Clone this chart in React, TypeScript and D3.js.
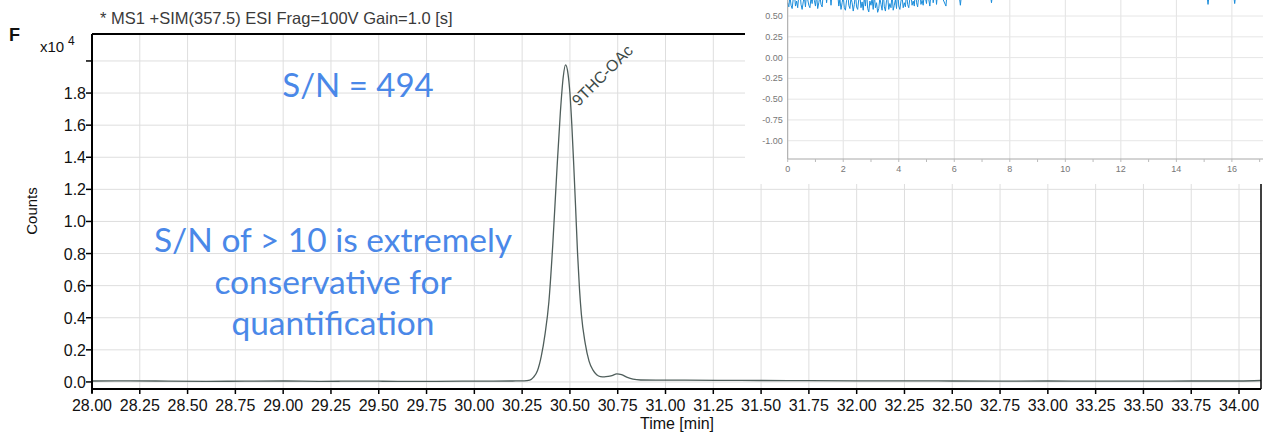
import React from 'react';
import * as d3 from 'd3';

// main chromatogram, counts in units of 1e4
const mainTime = [
  28.0, 28.2, 28.4, 28.6, 28.8, 29.0, 29.2, 29.4, 29.6, 29.8, 30.0, 30.1, 30.2, 30.26, 30.29,
  30.31, 30.33, 30.35, 30.37, 30.39, 30.41, 30.43, 30.45, 30.465, 30.477, 30.49, 30.5, 30.51,
  30.52, 30.53, 30.54, 30.55, 30.56, 30.58, 30.6, 30.62, 30.64, 30.66, 30.68, 30.7, 30.72,
  30.745, 30.77, 30.8, 30.83, 30.87, 30.95, 31.1, 31.3, 31.5, 31.75, 32.0, 32.25, 32.5, 32.75,
  33.0, 33.25, 33.5, 33.75, 34.0, 34.115,
];
const mainCounts = [
  0.006, 0.007, 0.005, 0.004, 0.005, 0.006, 0.004, 0.005, 0.004, 0.004, 0.005, 0.005, 0.006, 0.007, 0.012,
  0.03, 0.07, 0.16, 0.3, 0.5, 0.85, 1.28, 1.68, 1.9, 1.975, 1.92, 1.8, 1.6,
  1.35, 1.08, 0.8, 0.58, 0.42, 0.24, 0.13, 0.075, 0.045, 0.033, 0.031, 0.034, 0.04,
  0.05, 0.045, 0.028, 0.017, 0.012, 0.011, 0.011, 0.01, 0.009, 0.008, 0.007, 0.007, 0.006, 0.005,
  0.006, 0.005, 0.005, 0.006, 0.006, 0.009,
];
const xTicks = [
  '28.00', '28.25', '28.50', '28.75', '29.00', '29.25', '29.50', '29.75', '30.00', '30.25', '30.50',
  '30.75', '31.00', '31.25', '31.50', '31.75', '32.00', '32.25', '32.50', '32.75', '33.00', '33.25',
  '33.50', '33.75', '34.00',
];
const yTicks = [0.0, 0.2, 0.4, 0.6, 0.8, 1.0, 1.2, 1.4, 1.6, 1.8, 2.0];
const yLabelled = ['0.0', '0.2', '0.4', '0.6', '0.8', '1.0', '1.2', '1.4', '1.6', '1.8'];

// inset: noise trace, dense part sampled every 0.04 from 0
const insetStep = 0.04;
const insetNoise = [
  0.66, 0.61, 0.74, 0.63, 0.59, 0.71, 0.78, 0.62, 0.68, 0.60, 0.75, 0.82, 0.64, 0.58, 0.67,
  0.73, 0.61, 0.79, 0.70, 0.63, 0.60, 0.72, 0.65, 0.81, 0.69, 0.62, 0.76, 0.59, 0.66, 0.74,
  0.64, 0.61, 0.77, 0.70, 0.83, 0.66,
  0.78, 0.84, 0.80, 0.63, 0.79, 0.86, 0.82, 0.80, 0.85, 0.77,
  0.62, 0.70, 0.58, 0.66, 0.74, 0.60, 0.57, 0.69, 0.80, 0.63, 0.59, 0.72, 0.66, 0.56, 0.64,
  0.78, 0.61, 0.58, 0.70, 0.75, 0.60, 0.67, 0.57, 0.73, 0.62, 0.81, 0.59, 0.55, 0.68, 0.63,
  0.71, 0.58, 0.76, 0.60, 0.66, 0.545, 0.59, 0.72, 0.64, 0.57, 0.79, 0.61, 0.56, 0.69, 0.74,
  0.58, 0.65, 0.60, 0.77, 0.57, 0.63, 0.70, 0.59, 0.82, 0.62, 0.58, 0.68, 0.73, 0.60, 0.66,
  0.61, 0.79, 0.64, 0.60, 0.71, 0.76, 0.63, 0.68, 0.62, 0.84, 0.66, 0.61, 0.74, 0.80, 0.64,
  0.69, 0.63, 0.78, 0.72, 0.65, 0.83, 0.70, 0.62, 0.77, 0.81, 0.66, 0.74, 0.85, 0.64, 0.79,
  0.82,
];
const insetSpikes: [number, number][] = [
  [5.7, 0.62], [5.75, 0.82], [6.15, 0.82], [6.22, 0.63], [6.28, 0.82], [7.28, 0.82], [7.34, 0.66],
  [7.4, 0.82], [15.08, 0.82], [15.14, 0.64], [15.2, 0.82], [16.04, 0.82], [16.1, 0.65],
  [16.16, 0.82], [17.12, 0.82],
];
const insetXTicks = [0, 2, 4, 6, 8, 10, 12, 14, 16];
const insetMinor = [1, 3, 5, 7, 9, 11, 13, 15, 17];
const insetYTicks = [0.5, 0.25, 0.0, -0.25, -0.5, -0.75, -1.0];

const FONT = '"Liberation Sans", Arial, sans-serif';
const BLUE = '#4a88e8';

export default function App() {
  const x = d3.scaleLinear().domain([28, 34.115]).range([92, 1261]);
  const y = d3.scaleLinear().domain([-0.044, 2.168]).range([389, 34]);

  const line = d3.line<number>()
    .x((d, i) => x(mainTime[i]))
    .y(d => y(d))
    .curve(d3.curveMonotoneX);

  const ix = d3.scaleLinear().domain([0, 17.12]).range([787.7, 1263]);
  const iy = d3.scaleLinear().domain([-1.22, 0.693]).range([159, 0]);
  const insetPts: [number, number][] = insetNoise
    .map((v, i) => [i * insetStep, v] as [number, number])
    .concat(insetSpikes);
  const insetLine = d3.line<[number, number]>()
    .x(d => ix(d[0]))
    .y(d => iy(d[1]));

  const [x0, x1] = x.range();
  const [yb, yt] = y.range();

  return (
    <svg width={1263} height={434} style={{ position: 'absolute', left: 0, top: 0, background: '#fff' }}>
      <defs>
        <clipPath id="plot">
          <rect x={x0} y={yt} width={x1 - x0} height={yb - yt} />
        </clipPath>
      </defs>

      {/* grid */}
      {xTicks.map(t => (
        <line key={'gx' + t} x1={x(+t)} x2={x(+t)} y1={yt} y2={yb} stroke="#dedede" strokeWidth={1} />
      ))}
      {yTicks.map(t => (
        <line key={'gy' + t} x1={x0} x2={x1} y1={y(t)} y2={y(t)} stroke="#dedede" strokeWidth={1} />
      ))}

      <path d={line(mainCounts) || ''} fill="none" stroke="#4f5e5b" strokeWidth={1.3} clipPath="url(#plot)" />

      {/* frame */}
      <line x1={x0} x2={x1} y1={yt} y2={yt} stroke="#000" strokeWidth={2} />
      <line x1={x1} x2={x1} y1={yt} y2={yb} stroke="#000" strokeWidth={1.5} />
      <line x1={x0} x2={x0} y1={yt} y2={yb + 4} stroke="#000" strokeWidth={2} />
      <line x1={x0} x2={x1} y1={yb} y2={yb} stroke="#000" strokeWidth={2} />

      {/* y axis */}
      {yTicks.map(t => (
        <line key={'ty' + t} x1={x0 - 6} x2={x0} y1={y(t)} y2={y(t)} stroke="#000" strokeWidth={1.5} />
      ))}
      {yLabelled.map(t => (
        <text key={'ly' + t} x={x0 - 6} y={y(+t) + 6} textAnchor="end" fontFamily={FONT} fontSize={16} fill="#111">{t}</text>
      ))}
      {/* x axis */}
      {xTicks.map(t => (
        <line key={'tx' + t} x1={x(+t)} x2={x(+t)} y1={yb} y2={yb + 5} stroke="#000" strokeWidth={1.5} />
      ))}
      {xTicks.map(t => (
        <text key={'lx' + t} x={x(+t)} y={yb + 22} textAnchor="middle" fontFamily={FONT} fontSize={16} fill="#111">{t}</text>
      ))}

      <text x={677} y={429} textAnchor="middle" fontFamily={FONT} fontSize={16} fill="#111">Time [min]</text>
      <text transform="translate(37,211) rotate(-90)" textAnchor="middle" fontFamily={FONT} fontSize={15} fill="#111">Counts</text>
      <text x={40} y={52} fontFamily={FONT} fontSize={15} fill="#111">x10</text>
      <text x={68} y={45} fontFamily={FONT} fontSize={12} fill="#111">4</text>
      <text x={9} y={41} fontFamily={FONT} fontSize={18} fontWeight="bold" fill="#111">F</text>
      <text x={100} y={24} fontFamily={FONT} fontSize={16.5} fill="#3a3a3a">* MS1 +SIM(357.5) ESI Frag=100V Gain=1.0 [s]</text>

      <text transform={`translate(${x(30.477) + 13},${y(1.975) + 42}) rotate(-45)`} fontFamily={FONT} fontSize={16} fill="#3d4a48">9THC-OAc</text>

      {/* annotations */}
      <text x={358} y={97} textAnchor="middle" fontFamily="Lato, sans-serif" fontSize={33} fill={BLUE}>S/N = 494</text>
      <text textAnchor="middle" fontFamily="Lato, sans-serif" fontSize={33.5} fill={BLUE}>
        <tspan x={333} y={252}>S/N of &gt; 10 is extremely</tspan>
        <tspan x={333} y={294}>conservative for</tspan>
        <tspan x={333} y={335}>quantification</tspan>
      </text>

      {/* inset */}
      <g>
        <rect x={745} y={0} width={518} height={184} fill="#fff" />
        {insetXTicks.map(t => (
          <line key={'igx' + t} x1={ix(t)} x2={ix(t)} y1={0} y2={iy.range()[0]} stroke="#e2e2e2" strokeWidth={1} />
        ))}
        {insetYTicks.map(t => (
          <line key={'igy' + t} x1={ix(0)} x2={1263} y1={iy(t)} y2={iy(t)} stroke="#e6e6e6" strokeWidth={1} />
        ))}
        <path d={insetLine(insetPts) || ''} fill="none" stroke="#1b8ddb" strokeWidth={1} />
        <line x1={ix(0)} x2={ix(0)} y1={0} y2={iy.range()[0]} stroke="#a8a8a8" strokeWidth={1} />
        <line x1={ix(0)} x2={1263} y1={iy.range()[0]} y2={iy.range()[0]} stroke="#a8a8a8" strokeWidth={1} />
        {insetXTicks.concat(insetMinor).map(t => (
          <line key={'itx' + t} x1={ix(t)} x2={ix(t)} y1={iy.range()[0]} y2={iy.range()[0] + 3} stroke="#bbb" strokeWidth={1} />
        ))}
        {insetXTicks.map(t => (
          <text key={'ilx' + t} x={ix(t)} y={iy.range()[0] + 13} textAnchor="middle" fontFamily={FONT} fontSize={9} fill="#777">{t}</text>
        ))}
        {insetYTicks.map(t => (
          <text key={'ily' + t} x={ix(0) - 5} y={iy(t) + 3} textAnchor="end" fontFamily={FONT} fontSize={9} fill="#777">{d3.format('.2f')(t).replace('−', '-')}</text>
        ))}
      </g>
    </svg>
  );
}
